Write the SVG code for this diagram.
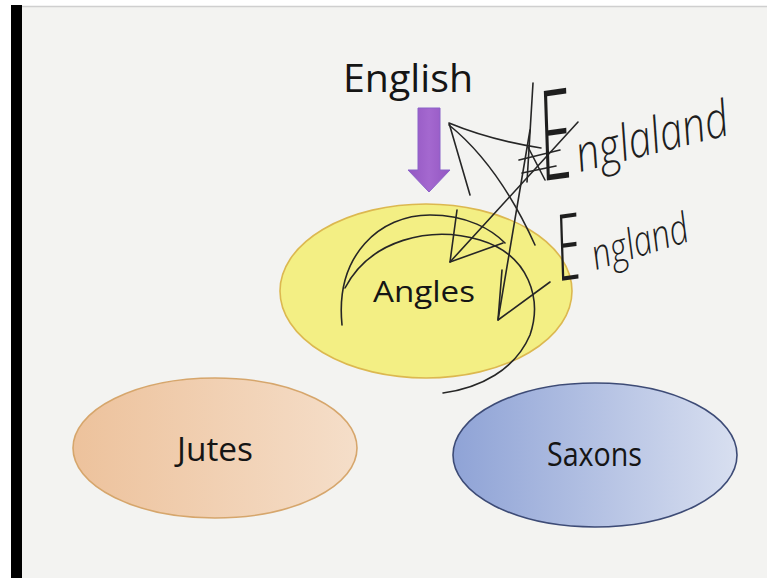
<svg xmlns="http://www.w3.org/2000/svg" width="767" height="578" viewBox="0 0 767 578">
  <defs>
    <linearGradient id="gJutes" x1="0" y1="0" x2="1" y2="0">
      <stop offset="0" stop-color="#edc29c"/>
      <stop offset="1" stop-color="#f5dec9"/>
    </linearGradient>
    <linearGradient id="gSaxons" x1="0" y1="0" x2="1" y2="0">
      <stop offset="0" stop-color="#8fa3d6"/>
      <stop offset="1" stop-color="#d8dff0"/>
    </linearGradient>
    <linearGradient id="gArrow" x1="0" y1="0" x2="1" y2="0">
      <stop offset="0" stop-color="#9356c2"/>
      <stop offset="0.5" stop-color="#a468cf"/>
      <stop offset="1" stop-color="#9356c2"/>
    </linearGradient>
  </defs>
  <style>
    .label { font-family: "Open Sans", "Liberation Sans", sans-serif; fill: #151515; }
    .ink { fill: none; stroke: #262626; stroke-width: 1.6; stroke-linecap: round; stroke-linejoin: round; }
    .hand { font-family: "Open Sans", "DejaVu Sans", sans-serif; font-style: italic; font-weight: 300; fill: #1e1e1e; }
  </style>

  <!-- page -->
  <rect x="0" y="0" width="767" height="578" fill="#ffffff"/>
  <rect x="22" y="6" width="745" height="572" fill="#f3f3f1"/>
  <line x1="11" y1="6.5" x2="767" y2="6.5" stroke="#cfcfcf" stroke-width="1.5"/>
  <rect x="11" y="5" width="11" height="573" fill="#000"/>

  <g id="english">
    <text class="label" x="343" y="92" font-size="38" textLength="130" lengthAdjust="spacingAndGlyphs">English</text>
  </g>

  <g id="angles">
    <ellipse cx="426" cy="291" rx="146" ry="87" fill="#f3ef84" stroke="#dcb850" stroke-width="1.6"/>
    <text class="label" x="373" y="302" font-size="30" textLength="102" lengthAdjust="spacingAndGlyphs">Angles</text>
  </g>

  <g id="jutes">
    <ellipse cx="215" cy="448" rx="142" ry="70" fill="url(#gJutes)" stroke="#d6a66c" stroke-width="1.6"/>
    <text class="label" x="177" y="461" font-size="33" textLength="76" lengthAdjust="spacingAndGlyphs">Jutes</text>
  </g>

  <g id="saxons">
    <ellipse cx="595" cy="455" rx="142" ry="72" fill="url(#gSaxons)" stroke="#3d4b76" stroke-width="1.6"/>
    <text class="label" x="547" y="466" font-size="32" textLength="95" lengthAdjust="spacingAndGlyphs">Saxons</text>
  </g>

  <g id="connectors">
    <path d="M418,108 H440 V170 H450 L429,192 L408,170 H418 Z" fill="url(#gArrow)" stroke="#8a63c8" stroke-width="1"/>
  </g>

  <g id="annotation">
    <!-- N-shaped strokes -->
    <path class="ink" d="M470,195 L449,123 Q490,140 541,148"/>
    <path class="ink" d="M449,125 C480,150 510,190 535,245"/>
    <!-- arrow 1 -->
    <path class="ink" d="M578,122 L450,262"/>
    <path class="ink" d="M457,210 L450,262 L503,243"/>
    <!-- arrow 2 -->
    <path class="ink" d="M530,130 L498,320"/>
    <path class="ink" d="M502,270 L498,320 L550,282"/>
    <!-- Ae strokes -->
    <path class="ink" d="M533,83 L527,182" stroke-width="1.4"/>
    <path class="ink" d="M519,160 L560,150"/>
    <path class="ink" d="M522,173 L556,166"/>
    <path class="ink" d="M528,147 L545,180"/>
    <!-- arcs -->
    <path class="ink" d="M342,325 C335,255 380,215 430,215 C468,215 492,230 505,243"/>
    <path class="ink" d="M345,288 C370,240 430,225 480,240 C530,255 542,300 530,335 C515,370 480,388 443,393"/>
    <!-- handwriting -->
    <text class="hand" transform="translate(544,181) rotate(-8) scale(0.5,1)" font-size="125">E</text>
    <text class="hand" transform="translate(580,172) rotate(-14)" font-size="50" textLength="156" lengthAdjust="spacingAndGlyphs">nglaland</text>
    <text class="hand" transform="translate(560,281) rotate(-8) scale(0.5,1)" font-size="92">E</text>
    <text class="hand" transform="translate(596,270) rotate(-17)" font-size="42" textLength="100" lengthAdjust="spacingAndGlyphs">ngland</text>
  </g>
</svg>
